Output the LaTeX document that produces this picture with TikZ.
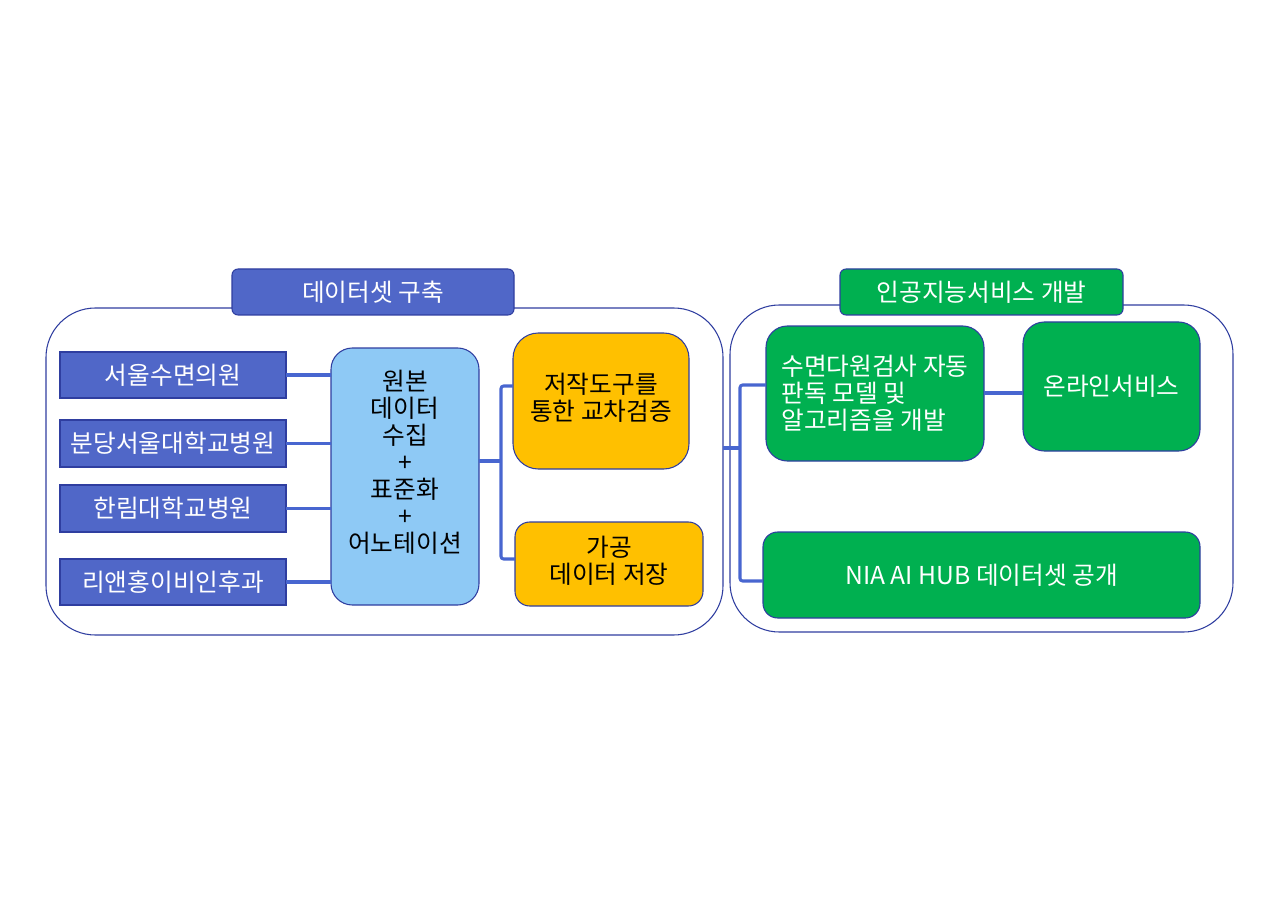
\documentclass[tikz,border=0pt]{standalone}
\usepackage{fontspec}
\setmainfont{Noto Sans CJK KR}
\definecolor{bluefill}{RGB}{80,103,200}
\definecolor{bordercol}{RGB}{47,62,160}
\definecolor{linecol}{RGB}{72,102,208}
\definecolor{lightblue}{RGB}{142,201,245}
\definecolor{orangefill}{RGB}{255,192,0}
\definecolor{greenfill}{RGB}{0,176,80}
\tikzset{
  sz/.style 2 args={minimum width=#1*0.75pt, minimum height=#2*0.75pt},
  base/.style={draw=bordercol, line width=0.8pt, inner sep=0pt, outer sep=0pt,
    font=\fontsize{18.5}{20.25}\selectfont, align=center},
  container/.style={draw=bordercol, line width=0.8pt, inner sep=0pt, outer sep=0pt, rounded corners=37pt},
  titlebox/.style={base, rounded corners=4.5pt, text=white},
  srcbox/.style={base, fill=bluefill, text=white},
  midbox/.style={base, fill=lightblue, rounded corners=16pt},
  orbox/.style={base, fill=orangefill},
  grbox/.style={base, fill=greenfill, text=white},
  txt/.style={inner sep=0pt, font=\fontsize{18.5}{20.25}\selectfont, align=center},
  conn/.style={draw=linecol, line width=2.3pt, rounded corners=2pt},
}
\begin{document}
\begin{tikzpicture}[x=0.75pt,y=-0.75pt]
\useasboundingbox (0,0) rectangle (1280,905);
% containers
\node[container, sz={677}{327}] (L) at (384.5,471.5) {};
\node[container, sz={503}{327}] (R) at (981.5,468.5) {};
% titles
\node[titlebox, fill=bluefill, sz={282}{46}] (TL) at (373,292) {데이터셋 구축};
\node[titlebox, fill=greenfill, sz={283}{46}] (TR) at (981.5,292) {인공지능서비스 개발};
% sources
\node[srcbox, sz={226}{46}] (s1) at (173,375) {서울수면의원};
\node[srcbox, sz={226}{47}] (s2) at (173,443.5) {분당서울대학교병원};
\node[srcbox, sz={226}{47}] (s3) at (173,508.5) {한림대학교병원};
\node[srcbox, sz={226}{46}] (s4) at (173,582) {리앤홍이비인후과};
% center
\node[midbox, sz={148}{257}] (c) at (405,476.5) {};
\node[txt] (ct) at (405,462) {원본\\데이터\\수집\\+\\표준화\\+\\어노테이션};
% orange
\node[orbox, rounded corners=19pt, sz={176}{136}] (o1) at (601,401) {};
\node[txt] (o1t) at (601,398) {저작도구를\\통한 교차검증};
\node[orbox, rounded corners=11pt, sz={188}{84}] (o2) at (609,564) {};
\node[txt] (o2t) at (609,561) {가공\\데이터 저장};
% green
\node[grbox, rounded corners=16pt, sz={218}{135}, align=left] (g1) at (875,393.5) {수면다원검사 자동\\판독 모델 및\\알고리즘을 개발};
\node[grbox, rounded corners=16pt, sz={177}{129}] (g2) at (1111.5,386.5) {온라인서비스};
\node[grbox, rounded corners=11pt, sz={437}{86}] (g3) at (981.5,575) {NIA AI HUB 데이터셋 공개};
% connectors
\draw[conn] (s1.east) -- (s1.east -| c.west);
\draw[conn] (s2.east) -- (s2.east -| c.west);
\draw[conn] (s3.east) -- (s3.east -| c.west);
\draw[conn] (s4.east) -- (s4.east -| c.west);
\coordinate (b1) at (501,461);
\coordinate (bt) at (501,386);
\coordinate (bb) at (501,559);
\draw[conn] (c.east |- b1) -- (b1);
\draw[conn] (bt -| o1.west) -- (bt) -- (bb) -- (bb -| o2.west);
\coordinate (r1) at (740,448);
\coordinate (rt) at (740,385);
\coordinate (rb) at (740,581);
\draw[conn] (L.east |- r1) -- (r1);
\draw[conn] (rt -| g1.west) -- (rt) -- (rb) -- (rb -| g3.west);
\coordinate (gy) at (1000,393);
\draw[conn] (g1.east |- gy) -- (g2.west |- gy);
\end{tikzpicture}
\end{document}
